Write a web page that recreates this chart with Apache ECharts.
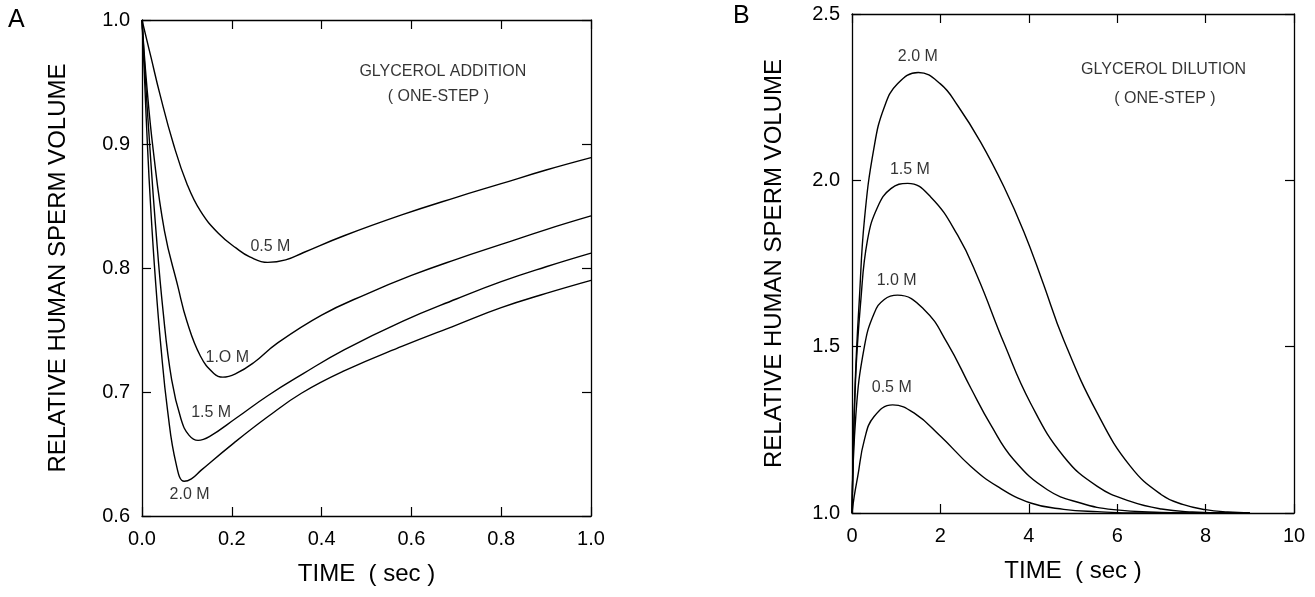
<!DOCTYPE html>
<html>
<head>
<meta charset="utf-8">
<script src="https://cdn.jsdelivr.net/npm/echarts@6/dist/echarts.min.js"></script>
<style>
html,body{margin:0;padding:0;background:#fff;}
#c{width:1315px;height:597px;}
</style>
</head>
<body>
<div id="c"></div>
<script>
// ---------- Panel A: glycerol addition ----------
const aT05 = [0, 0.02, 0.04, 0.07, 0.1, 0.13, 0.17, 0.21, 0.24, 0.28, 0.32, 0.36, 0.45, 0.58, 0.7, 0.8, 0.9, 1.0];
const aV05 = [1.0, 0.97, 0.94, 0.90, 0.868, 0.846, 0.828, 0.816, 0.809, 0.8045, 0.8065, 0.8125, 0.826, 0.843, 0.857, 0.868, 0.879, 0.889];
const aT10 = [0, 0.01, 0.025, 0.05, 0.08, 0.1, 0.13, 0.16, 0.18, 0.21, 0.25, 0.3, 0.4, 0.5, 0.6, 0.7, 0.8, 0.9, 1.0];
const aV10 = [1.0, 0.95, 0.895, 0.83, 0.785, 0.757, 0.729, 0.715, 0.712, 0.715, 0.724, 0.739, 0.762, 0.779, 0.794, 0.807, 0.819, 0.831, 0.842];
const aT15 = [0, 0.008, 0.017, 0.03, 0.047, 0.066, 0.087, 0.105, 0.125, 0.15, 0.21, 0.28, 0.36, 0.45, 0.58, 0.7, 0.8, 0.9, 1.0];
const aV15 = [1.0, 0.95, 0.9, 0.835, 0.765, 0.71, 0.678, 0.665, 0.661, 0.664, 0.679, 0.697, 0.715, 0.734, 0.757, 0.775, 0.789, 0.801, 0.812];
const aT20 = [0, 0.006, 0.012, 0.02, 0.03, 0.042, 0.057, 0.076, 0.094, 0.11, 0.132, 0.205, 0.28, 0.355, 0.45, 0.58, 0.7, 0.8, 0.9, 1.0];
const aV20 = [1.0, 0.95, 0.9, 0.845, 0.79, 0.737, 0.685, 0.642, 0.628, 0.63, 0.637, 0.659, 0.68, 0.699, 0.717, 0.737, 0.754, 0.768, 0.7795, 0.79];
const aCurveLabels = ['0.5 M', '1.O M', '1.5 M', '2.0 M'];
const aLabelT = [0.286, 0.19, 0.154, 0.106];
const aLabelV = [0.817, 0.728, 0.683, 0.617];
const aNotes = ['GLYCEROL ADDITION', '( ONE-STEP )'];
const aNoteT = [0.67, 0.66];
const aNoteV = [0.958, 0.938];
const aXTicks = [0, 1, 0.2];
const aYTicks = [0.6, 1.0, 0.1];

// ---------- Panel B: glycerol dilution ----------
const bT05 = [0, 0.05, 0.13, 0.28, 0.5, 0.92, 1.41, 2.01, 2.69, 3.29, 4.04, 4.79, 5.55, 6.5, 8, 9];
const bV05 = [1.0, 1.05, 1.11, 1.22, 1.29, 1.325, 1.30, 1.23, 1.14, 1.08, 1.03, 1.011, 1.004, 1.0, 1.0, 1.0];
const bT10 = [0, 0.09, 0.28, 0.5, 0.73, 1.03, 1.63, 2.16, 2.69, 3.14, 3.66, 4.42, 5.17, 5.92, 7.0, 8.0, 9.0];
const bV10 = [1.0, 1.30, 1.50, 1.60, 1.642, 1.655, 1.612, 1.51, 1.375, 1.265, 1.16, 1.07, 1.03, 1.01, 1.002, 1.0, 1.0];
const bT15 = [0, 0.08, 0.2, 0.35, 0.58, 0.88, 1.26, 1.78, 2.39, 2.84, 3.44, 4.04, 4.79, 5.55, 6.3, 7.0, 7.7, 8.5, 9.0];
const bV15 = [1.0, 1.40, 1.64, 1.82, 1.92, 1.975, 1.991, 1.95, 1.835, 1.71, 1.51, 1.33, 1.17, 1.08, 1.035, 1.012, 1.003, 1.0, 1.0];
const bT20 = [0, 0.05, 0.1, 0.165, 0.28, 0.5, 0.73, 1.03, 1.5, 2.0, 2.39, 2.91, 3.44, 3.89, 4.3, 4.79, 5.55, 6.3, 7.0, 7.5, 8.0, 8.5, 9.0];
const bV20 = [1.0, 1.3, 1.48, 1.64, 1.88, 2.10, 2.22, 2.29, 2.324, 2.29, 2.225, 2.115, 1.98, 1.845, 1.70, 1.52, 1.30, 1.14, 1.055, 1.025, 1.01, 1.003, 1.0];
const bCurveLabels = ['0.5 M', '1.0 M', '1.5 M', '2.0 M'];
const bLabelT = [0.90, 1.01, 1.31, 1.49];
const bLabelV = [1.378, 1.70, 2.031, 2.372];
const bNotes = ['GLYCEROL DILUTION', '( ONE-STEP )'];
const bNoteT = [7.05, 7.08];
const bNoteV = [2.332, 2.247];
const bXTicks = [0, 10, 2];
const bYTicks = [1.0, 2.5, 0.5];

const yTitle = 'RELATIVE HUMAN SPERM VOLUME';
const xTitle = 'TIME  ( sec )';
const panelLetters = ['A', 'B'];

const FONT = '"Liberation Sans", Arial, Helvetica, sans-serif';
const zip = (a, b) => a.map((x, i) => [x, b[i]]);

function axesFor(gridIndex, xt, yt, xDigits, yDigits, yNameGap) {
  const base = {
    gridIndex,
    axisLine: {show: true, onZero: false, lineStyle: {color: '#000', width: 1.3}},
    axisTick: {show: true, inside: true, length: 9, lineStyle: {color: '#000', width: 1.2}},
    splitLine: {show: false}
  };
  const xs = [
    Object.assign({}, base, {
      type: 'value', position: 'bottom', min: xt[0], max: xt[1], interval: xt[2],
      name: xTitle, nameLocation: 'middle', nameGap: 46,
      nameTextStyle: {fontFamily: FONT, fontSize: 24, color: '#000'},
      axisLabel: {fontFamily: FONT, fontSize: 20, color: '#000', margin: 13,
        formatter: v => v.toFixed(xDigits)}
    }),
    Object.assign({}, base, {
      type: 'value', position: 'top', min: xt[0], max: xt[1], interval: xt[2],
      axisLabel: {show: false}
    })
  ];
  const ys = [
    Object.assign({}, base, {
      type: 'value', position: 'left', min: yt[0], max: yt[1], interval: yt[2],
      name: yTitle, nameLocation: 'middle', nameGap: yNameGap, nameRotate: 90,
      nameTextStyle: {fontFamily: FONT, fontSize: 24, color: '#000'},
      axisLabel: {fontFamily: FONT, fontSize: 20, color: '#000', margin: 12,
        formatter: v => v.toFixed(yDigits)}
    }),
    Object.assign({}, base, {
      type: 'value', position: 'right', min: yt[0], max: yt[1], interval: yt[2],
      axisLabel: {show: false}
    })
  ];
  return {xs, ys};
}

const A = axesFor(0, aXTicks, aYTicks, 1, 1, 72);
const B = axesFor(1, bXTicks, bYTicks, 0, 1, 66);

function curve(xi, yi, data) {
  return {
    type: 'line', xAxisIndex: xi, yAxisIndex: yi, data,
    showSymbol: false, symbol: 'none', smooth: 0.45,
    lineStyle: {color: '#000', width: 1.4}, silent: true, z: 3
  };
}
function textSeries(xi, yi, ts, vs, texts, size) {
  return {
    type: 'scatter', xAxisIndex: xi, yAxisIndex: yi,
    symbolSize: 1, itemStyle: {color: 'rgba(0,0,0,0)'}, silent: true, z: 5,
    data: ts.map((t, i) => ({value: [t, vs[i]], name: texts[i]})),
    label: {show: true, position: 'inside', formatter: p => p.name,
      fontFamily: FONT, fontSize: size, color: '#000'}
  };
}

const option = {
  backgroundColor: '#fff',
  animation: false,
  grid: [
    {left: 142, top: 20, right: 724, bottom: 81},
    {left: 852, top: 14, right: 21, bottom: 84}
  ],
  xAxis: [A.xs[0], A.xs[1], B.xs[0], B.xs[1]],
  yAxis: [A.ys[0], A.ys[1], B.ys[0], B.ys[1]],
  graphic: [
    {type: 'text', left: 8, top: 8, style: {text: panelLetters[0], font: '25px ' + FONT, fill: '#000'}},
    {type: 'text', left: 733, top: 4, style: {text: panelLetters[1], font: '25px ' + FONT, fill: '#000'}}
  ],
  series: [
    curve(0, 0, zip(aT05, aV05)),
    curve(0, 0, zip(aT10, aV10)),
    curve(0, 0, zip(aT15, aV15)),
    curve(0, 0, zip(aT20, aV20)),
    textSeries(0, 0, aLabelT, aLabelV, aCurveLabels, 16),
    textSeries(0, 0, aNoteT, aNoteV, aNotes, 16),
    curve(2, 2, zip(bT05, bV05)),
    curve(2, 2, zip(bT10, bV10)),
    curve(2, 2, zip(bT15, bV15)),
    curve(2, 2, zip(bT20, bV20)),
    textSeries(2, 2, bLabelT, bLabelV, bCurveLabels, 16),
    textSeries(2, 2, bNoteT, bNoteV, bNotes, 16)
  ]
};

const chart = echarts.init(document.getElementById('c'), null, {renderer: 'canvas'});
chart.setOption(option);
</script>
</body>
</html>
